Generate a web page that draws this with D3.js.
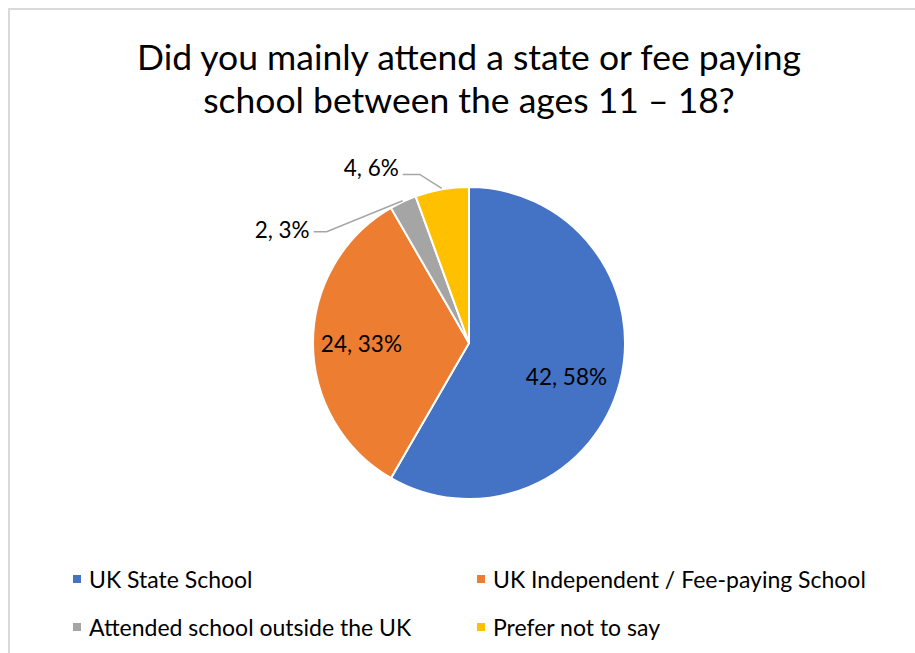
<!DOCTYPE html>
<html>
<head>
<meta charset="utf-8">
<script src="https://cdn.jsdelivr.net/npm/d3@7"></script>
<style>
  html, body { margin: 0; padding: 0; background: #fff; }
  svg { display: block; }
  text { font-family: Lato, "Open Sans", sans-serif; fill: #000; }
</style>
</head>
<body>
<svg id="chart" width="915" height="653"></svg>
<script>
// Survey responses
const categories = [
  "UK State School",
  "UK Independent / Fee-paying School",
  "Attended school outside the UK",
  "Prefer not to say"
];
const counts = [42, 24, 2, 4];
const colors = ["#4472C4", "#ED7D31", "#A5A5A5", "#FFC000"];
const titleLines = [
  "Did you mainly attend a state or fee paying",
  "school between the ages 11 \u2013 18?"
];

const W = 915, H = 653;
const svg = d3.select("#chart");

// chart frame
svg.append("rect")
  .attr("x", 9).attr("y", 9)
  .attr("width", W + 10).attr("height", H + 10)
  .attr("fill", "#fff")
  .attr("stroke", "#d9d9d9").attr("stroke-width", 2);

// title
svg.append("g").selectAll("text")
  .data(titleLines).join("text")
  .attr("x", 469)
  .attr("y", (d, i) => 70 + i * 43)
  .attr("text-anchor", "middle")
  .attr("font-size", 35.5)
  .text(d => d);

// pie
const cx = 469, cy = 343, R = 156;
const total = d3.sum(counts);
const data = categories.map((c, i) => ({ cat: c, value: counts[i], color: colors[i] }));
const pie = d3.pie().value(d => d.value).sort(null);
const arcs = pie(data);
const arc = d3.arc().innerRadius(0).outerRadius(R);

const g = svg.append("g").attr("transform", `translate(${cx},${cy})`);
g.selectAll("path").data(arcs).join("path")
  .attr("d", arc)
  .attr("fill", d => d.data.color)
  .attr("stroke", "#fff")
  .attr("stroke-width", 2)
  .attr("stroke-linejoin", "round");

const pct = d => `${d.data.value}, ${Math.round(d.data.value / total * 100)}%`;
const labelSize = 22.5;

// inside labels for the large slices
const insideArc = d3.arc().innerRadius(R * 0.6).outerRadius(R * 0.6);
const inside = arcs.filter(d => d.data.value / total > 0.1);
const insideAdj = [[7, 9], [-14, 0]];
g.selectAll("text.inside").data(inside).join("text")
  .attr("class", "inside")
  .attr("transform", (d, i) => {
    const [x, y] = insideArc.centroid(d);
    return `translate(${x + insideAdj[i][0]},${y + insideAdj[i][1]})`;
  })
  .attr("text-anchor", "middle")
  .attr("dominant-baseline", "central")
  .attr("font-size", labelSize)
  .text(pct);

// outside labels with leader lines for the small slices
const outside = arcs.filter(d => d.data.value / total <= 0.1);
const edgeArc = d3.arc().innerRadius(R + 1).outerRadius(R + 1);
// leader layout: elbow offset from slice edge, horizontal run, text lift
const leaderLayout = {
  "Attended school outside the UK": { elbow: [-76, 31], run: 13, lift: -2 },
  "Prefer not to say": { elbow: [-22, -14], run: 17, lift: -7 }
};
outside.forEach(d => {
  const [ex, ey] = edgeArc.centroid(d);
  const lay = leaderLayout[d.data.cat];
  const bx = ex + lay.elbow[0], by = ey + lay.elbow[1];
  const tx = bx - lay.run;
  g.append("polyline")
    .attr("points", [[ex, ey], [bx, by], [tx, by]].map(p => p.join(",")).join(" "))
    .attr("fill", "none")
    .attr("stroke", "#a6a6a6")
    .attr("stroke-width", 1.5);
  g.append("text")
    .attr("x", tx - 4)
    .attr("y", by + lay.lift)
    .attr("text-anchor", "end")
    .attr("dominant-baseline", "central")
    .attr("font-size", labelSize)
    .text(pct(d));
});

// legend
const legendPos = [[73, 579], [477, 579], [73, 627], [477, 627]];
const lg = svg.append("g").selectAll("g").data(data).join("g")
  .attr("transform", (d, i) => `translate(${legendPos[i][0]},${legendPos[i][1]})`);
lg.append("rect")
  .attr("x", 0).attr("y", -4)
  .attr("width", 8).attr("height", 8)
  .attr("fill", d => d.color);
lg.append("text")
  .attr("x", 16).attr("y", 0)
  .attr("dominant-baseline", "central")
  .attr("font-size", 23)
  .text(d => d.cat);
</script>
</body>
</html>
